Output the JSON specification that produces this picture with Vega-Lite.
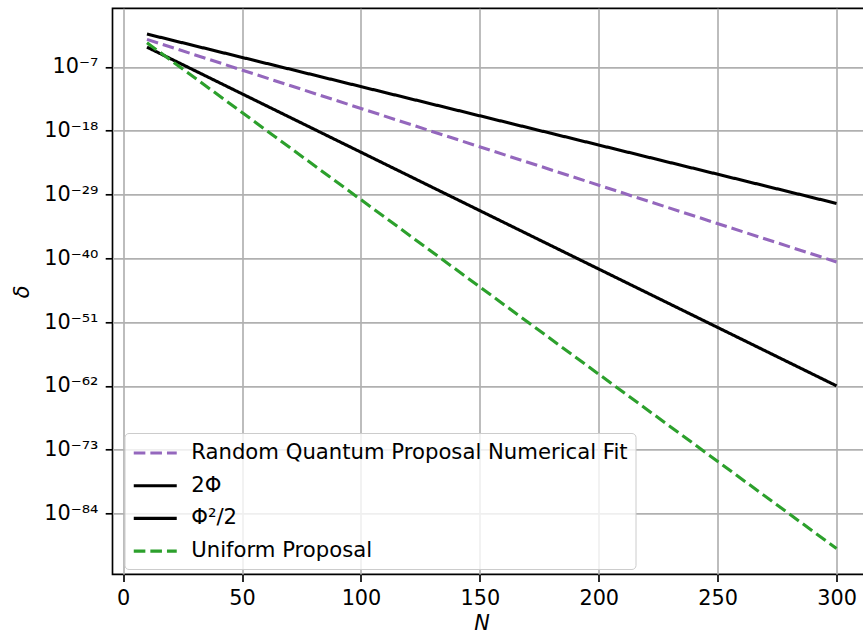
{
  "$schema": "https://vega.github.io/schema/vega-lite/v6.json",
  "autosize": {"type": "none"},
  "padding": {"left": 112.5, "top": 8.3, "right": 0, "bottom": 59.7},
  "width": 758.5,
  "height": 566,
  "background": "white",
  "data": {
    "values": [
      {"series": "Random Quantum Proposal Numerical Fit", "N": 10, "delta": 5.4e-3},
      {"series": "Random Quantum Proposal Numerical Fit", "N": 300, "delta": 2.3e-41},
      {"series": "2Φ", "N": 10, "delta": 4.5e-2},
      {"series": "2Φ", "N": 300, "delta": 2.8e-31},
      {"series": "Φ²/2", "N": 10, "delta": 2.5e-4},
      {"series": "Φ²/2", "N": 300, "delta": 1.0e-62},
      {"series": "Uniform Proposal", "N": 10, "delta": 1.4e-3},
      {"series": "Uniform Proposal", "N": 300, "delta": 8.9e-91}
    ]
  },
  "mark": {"type": "line", "strokeWidth": 3.1, "clip": true},
  "encoding": {
    "x": {
      "field": "N",
      "type": "quantitative",
      "scale": {"domain": [-4.5, 314.5], "nice": false, "zero": false},
      "axis": {
        "values": [0, 50, 100, 150, 200, 250, 300],
        "title": "N",
        "titleFontStyle": "italic",
        "titleX": 369,
        "titleY": 49,
        "titleAlign": "center",
        "titleBaseline": "middle",
        "labelBaseline": "top",
        "labelPadding": 7.3,
        "labelOverlap": false,
        "labelFlush": false
      }
    },
    "y": {
      "field": "delta",
      "type": "quantitative",
      "scale": {"type": "log", "domain": [3.24e-95, 1230], "nice": false, "zero": false},
      "axis": {
        "values": [1e-84, 1e-73, 1e-62, 1e-51, 1e-40, 1e-29, 1e-18, 1e-7],
        "labelExpr": "'10' + replace(replace(replace(replace(replace(replace(replace(replace(replace(replace(replace('' + round(log(datum.value)/LN10), regexp('-','g'), '⁻'), regexp('0','g'), '⁰'), regexp('1','g'), '¹'), regexp('2','g'), '²'), regexp('3','g'), '³'), regexp('4','g'), '⁴'), regexp('5','g'), '⁵'), regexp('6','g'), '⁶'), regexp('7','g'), '⁷'), regexp('8','g'), '⁸'), regexp('9','g'), '⁹')",
        "title": "δ",
        "titleFontStyle": "italic",
        "titleAngle": -90,
        "titleX": -90.5,
        "titleY": 283,
        "titleBaseline": "middle",
        "titleAlign": "center",
        "labelPadding": 7.3,
        "labelBaseline": "middle",
        "labelOverlap": false
      }
    },
    "color": {
      "field": "series",
      "type": "nominal",
      "scale": {
        "domain": ["Random Quantum Proposal Numerical Fit", "2Φ", "Φ²/2", "Uniform Proposal"],
        "range": ["#9467bd", "#000000", "#000000", "#2ca02c"]
      },
      "legend": {"title": null}
    },
    "strokeDash": {
      "field": "series",
      "type": "nominal",
      "scale": {
        "domain": ["Random Quantum Proposal Numerical Fit", "2Φ", "Φ²/2", "Uniform Proposal"],
        "range": [[11.6, 5], [1, 0], [1, 0], [11.6, 5]]
      },
      "legend": {"title": null}
    },
    "order": {"field": "N"}
  },
  "config": {
    "font": "DejaVu Sans",
    "view": {"stroke": "black", "strokeWidth": 1.67},
    "axis": {
      "labelFont": "DejaVu Sans",
      "labelFontSize": 20.8,
      "labelColor": "black",
      "titleFont": "DejaVu Sans",
      "titleFontSize": 20.8,
      "titleFontWeight": "normal",
      "titleColor": "black",
      "tickColor": "black",
      "tickSize": 7.3,
      "tickWidth": 1.67,
      "grid": true,
      "gridColor": "#b0b0b0",
      "gridWidth": 1.67,
      "domain": false
    },
    "legend": {
      "orient": "none",
      "legendX": 12,
      "legendY": 424.7,
      "labelFont": "DejaVu Sans",
      "labelFontSize": 21.2,
      "labelColor": "black",
      "labelOffset": 23.5,
      "symbolType": "M-2,0H2",
      "symbolSize": 462,
      "symbolOffset": 10.75,
      "symbolStrokeWidth": 3.1,
      "rowPadding": 9.7,
      "padding": 7.5,
      "strokeColor": "#cccccc",
      "fillColor": "rgba(255,255,255,0.8)",
      "cornerRadius": 4,
      "labelLimit": 0
    }
  }
}
